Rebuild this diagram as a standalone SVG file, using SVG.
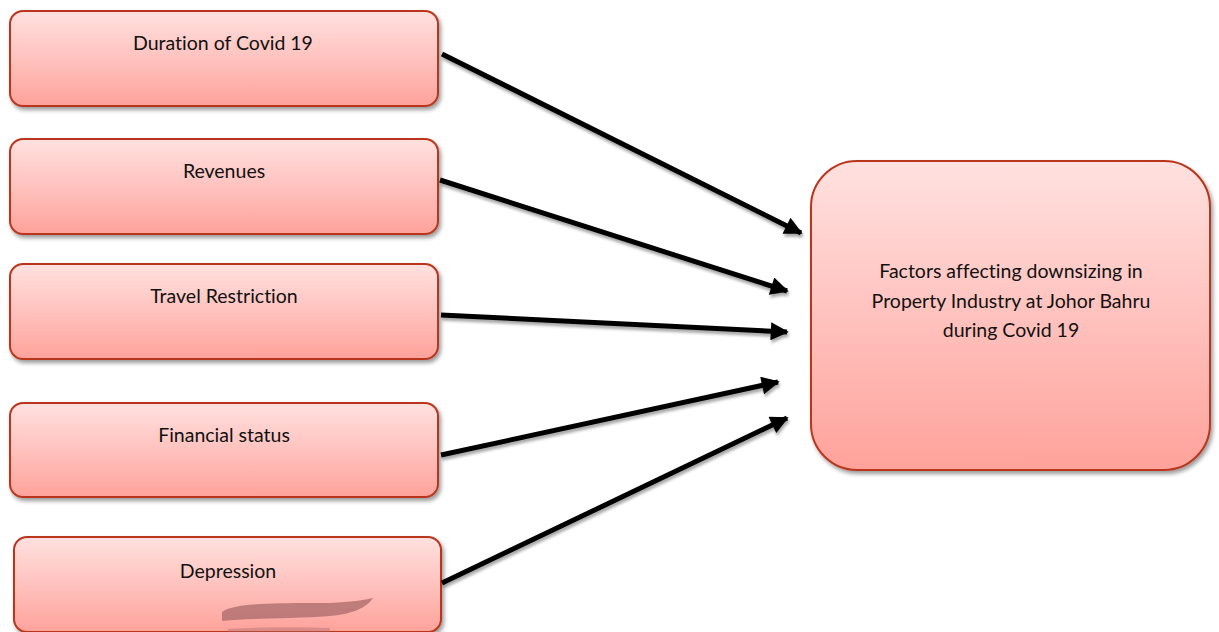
<svg xmlns="http://www.w3.org/2000/svg" width="1219" height="632" viewBox="0 0 1219 632">
  <defs>
    <linearGradient id="fillRed" x1="0" y1="0" x2="0" y2="1">
      <stop offset="0" stop-color="#FFE1DF"/>
      <stop offset="0.5" stop-color="#FFC2BE"/>
      <stop offset="1" stop-color="#FFA29B"/>
    </linearGradient>
    <filter id="shadow" x="-10%" y="-10%" width="125%" height="130%">
      <feGaussianBlur in="SourceAlpha" stdDeviation="2"/>
      <feOffset dx="2" dy="3" result="b"/>
      <feComponentTransfer><feFuncA type="linear" slope="0.4"/></feComponentTransfer>
      <feMerge><feMergeNode/><feMergeNode in="SourceGraphic"/></feMerge>
    </filter>
    <filter id="lineShadow" x="-10%" y="-20%" width="120%" height="140%">
      <feGaussianBlur in="SourceAlpha" stdDeviation="1.5"/>
      <feOffset dx="1" dy="3" result="b"/>
      <feComponentTransfer><feFuncA type="linear" slope="0.35"/></feComponentTransfer>
      <feMerge><feMergeNode/><feMergeNode in="SourceGraphic"/></feMerge>
    </filter>
    <marker id="arrow" viewBox="0 0 10 10" refX="9" refY="5" markerWidth="4.2" markerHeight="3.6" orient="auto" markerUnits="strokeWidth">
      <path d="M0,0 L10,5 L0,10 z" fill="#000"/>
    </marker>
  </defs>
  <style>
    .box { fill: url(#fillRed); stroke: #B9361C; stroke-width: 2; filter: url(#shadow); }
    .label { font-family: Lato, "Open Sans", "Liberation Sans", sans-serif; font-size: 19.5px; fill: #111; text-anchor: middle; font-variant-ligatures: none; }
    .conn { stroke: #000; stroke-width: 5; fill: none; marker-end: url(#arrow); }
  </style>

  <rect width="1219" height="632" fill="#fff"/>

  <g id="node-duration">
    <rect class="box" x="10" y="11" width="428" height="95" rx="13"/>
    <text class="label" x="223" y="50">Duration of Covid 19</text>
  </g>
  <g id="node-revenues">
    <rect class="box" x="10" y="139" width="428" height="95" rx="13"/>
    <text class="label" x="224" y="178">Revenues</text>
  </g>
  <g id="node-travel">
    <rect class="box" x="10" y="264" width="428" height="95" rx="13"/>
    <text class="label" x="224" y="303">Travel Restriction</text>
  </g>
  <g id="node-financial">
    <rect class="box" x="10" y="403" width="428" height="94" rx="13"/>
    <text class="label" x="224" y="442">Financial status</text>
  </g>
  <g id="node-depression">
    <rect class="box" x="14" y="537" width="427" height="95" rx="13"/>
    <text class="label" x="228" y="578">Depression</text>
    <!-- brush smear near the bottom edge -->
    <path d="M222,612 C235,602 290,603 330,603 C350,602 365,600 373,598 C368,606 355,614 330,616 C290,619 250,618 222,621 z" fill="#A86A6A" opacity="0.75"/>
    <path d="M228,629 C260,627 300,627 330,628 L330,632 L228,632 z" fill="#A86A6A" opacity="0.4"/>
  </g>

  <g id="node-factors">
    <rect class="box" x="811" y="161" width="399" height="309" rx="46"/>
    <text class="label" x="1011" y="278">Factors affecting downsizing in</text>
    <text class="label" x="1011" y="308">Property Industry at Johor Bahru</text>
    <text class="label" x="1011" y="337">during Covid 19</text>
  </g>

  <g id="connectors" filter="url(#lineShadow)">
    <line class="conn" x1="442" y1="54" x2="801" y2="233"/>
    <line class="conn" x1="440" y1="180" x2="787" y2="291"/>
    <line class="conn" x1="441" y1="315" x2="787" y2="332"/>
    <line class="conn" x1="441" y1="455" x2="778" y2="382"/>
    <line class="conn" x1="442" y1="583" x2="787" y2="418"/>
  </g>
</svg>
